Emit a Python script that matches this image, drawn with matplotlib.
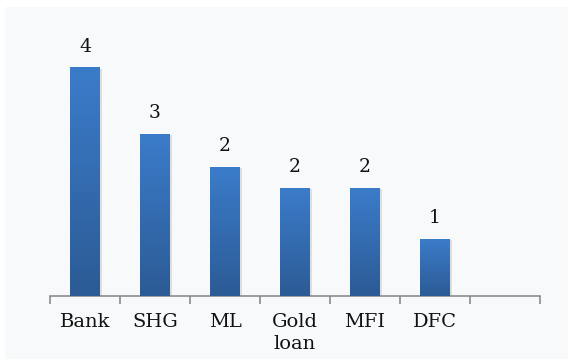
import matplotlib.pyplot as plt
import matplotlib.patches as patches
from matplotlib.colors import LinearSegmentedColormap
from matplotlib.patheffects import SimplePatchShadow, Normal
import numpy as np

# Sources of credit and their counts
categories = ["Bank", "SHG", "ML", "Gold\nloan", "MFI", "DFC", ""]
values = [4.0, 2.84, 2.26, 1.89, 1.89, 1.0, 0]
show_label = [True, True, True, True, True, True, False]

plt.rcParams['font.family'] = ['DejaVu Serif']

fig = plt.figure(figsize=(5.68, 3.59), dpi=100)
fig.patch.set_facecolor('white')

# light panel behind the chart
panel = patches.Rectangle((5 / 568, 0), 1, (359 - 7) / 359,
                          transform=fig.transFigure, fc='#f8f9fb', ec='none', zorder=-10)
fig.patches.append(panel)

ax = fig.add_axes([50 / 568, 63 / 359, 490 / 568, 266 / 359])
ax.set_facecolor('none')

x = np.arange(len(categories))
bar_w = 0.42
bars = ax.bar(x, values, width=bar_w, color='#3675bd', zorder=2)

# vertical gradient fill for each bar, plus a soft shadow
grad = LinearSegmentedColormap.from_list('bar', ['#2c5b95', '#3b7cca'])
gimg = np.linspace(0, 1, 256).reshape(-1, 1)
for b in bars:
    if b.get_height() <= 0:
        continue
    b.set_path_effects([SimplePatchShadow(offset=(2, -1), shadow_rgbFace='#a0a0a0', alpha=0.3), Normal()])
    x0, w, h = b.get_x(), b.get_width(), b.get_height()
    im = ax.imshow(gimg, cmap=grad, origin='lower', aspect='auto',
                   extent=(x0, x0 + w, 0, h), zorder=3)
    im.set_clip_path(b)

for b, v, show in zip(bars, values, show_label):
    if show:
        ax.text(b.get_x() + b.get_width() / 2, v + 0.2, f"{v:.0f}",
                ha='center', va='bottom', fontsize=13.5, color='#111111')

ax.set_xlim(-0.5, len(categories) - 0.5)
ax.set_ylim(0, 4.65)

for side in ['top', 'right', 'left']:
    ax.spines[side].set_visible(False)
ax.spines['bottom'].set_color('#8c8c8c')
ax.spines['bottom'].set_linewidth(1.2)
ax.set_yticks([])

ax.set_xticks(np.arange(len(categories) + 1) - 0.5)
ax.set_xticklabels([])
ax.tick_params(axis='x', which='major', direction='out', length=6, width=1.2, color='#8c8c8c')
ax.set_xticks(x, minor=True)
ax.set_xticklabels(categories, minor=True, fontsize=14, color='#111111', linespacing=1.3)
ax.tick_params(axis='x', which='minor', length=0, pad=12)

fig.savefig('out.png', dpi=100, facecolor='white')
